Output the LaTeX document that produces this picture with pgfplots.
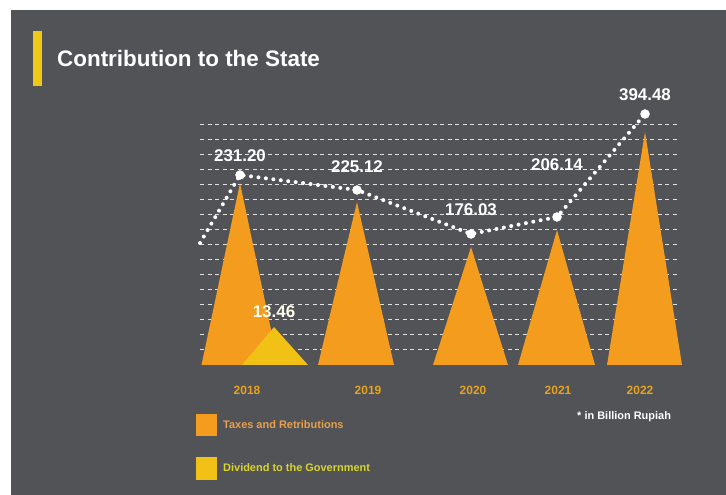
\documentclass[border=0pt]{standalone}
\usepackage{fontspec}
\setmainfont{Liberation Sans}
\usepackage{pgfplots}
\usepackage{pgfplotstable}
\pgfplotsset{compat=1.18}
\definecolor{bg}{HTML}{515357}
\definecolor{tax}{HTML}{F39C1E}
\definecolor{div}{HTML}{F1C116}
\definecolor{bar}{HTML}{F0C818}
\definecolor{yearcol}{HTML}{E8A21E}
\definecolor{divtxt}{HTML}{D9D42E}
\definecolor{taxtxt}{HTML}{E9A04A}

% line through the labelled values; y = drawn height above the baseline (px), val = printed value
\pgfplotstableread{
x   y    val     off
240 190  231.20  19
357 175  225.12  23
471 131  176.03  24
557 148  206.14  52
645 251  394.48  19
}\linedata

\begin{document}
\begin{tikzpicture}[x=1bp,y=1bp]
\path[use as bounding box] (0,0) rectangle (726,495);
\fill[white] (0,0) rectangle (726,495);
\fill[bg] (11,0) rectangle (726,485);
\fill[bar] (33,409) rectangle (42,464);
\node[anchor=west, text=white, font=\bfseries\fontsize{22.5}{24}\selectfont, inner sep=0pt] at (57,437) {Contribution to the State};

\begin{axis}[
  at={(200bp,130bp)}, anchor=south west,
  scale only axis, width=477bp, height=245bp,
  xmin=200, xmax=677, ymin=0, ymax=245,
  clip=false,
  axis line style={draw=none},
  major tick style={draw=none},
  ytick={15,30,...,240}, yticklabels={},
  ymajorgrids,
  grid style={white!82!bg, line width=1bp, dash pattern=on 4bp off 3.5bp},
  xtick={247,368,473,558,640},
  xticklabels={2018,2019,2020,2021,2022},
  xticklabel style={anchor=center, yshift=-25bp, text=yearcol, font=\bfseries\fontsize{12}{12}\selectfont},
]
% Taxes and Retributions (triangles)
\addplot[fill=tax, draw=none] coordinates {(201.5,0) (240,182) (278.5,0)} -- cycle;
\addplot[fill=tax, draw=none] coordinates {(318,0) (357,163) (394,0)} -- cycle;
\addplot[fill=tax, draw=none] coordinates {(433,0) (471,118) (508,0)} -- cycle;
\addplot[fill=tax, draw=none] coordinates {(518,0) (557,135) (595,0)} -- cycle;
\addplot[fill=tax, draw=none] coordinates {(607,0) (645,233) (682,0)} -- cycle;
% Dividend to the Government
\addplot[fill=div, draw=none] coordinates {(242,0) (274,38) (308,0)} -- cycle;
\addplot[draw=none, mark=none, nodes near coords, point meta=explicit symbolic,
  every node near coord/.append style={anchor=center, yshift=15bp, text=white!92!yellow, font=\bfseries\fontsize{17}{17}\selectfont}]
  coordinates {(274,38)[13.46]};
% dotted line
\addplot[white, line width=4bp, dash pattern=on 0bp off 7.5bp, line cap=round]
  coordinates {(200,122) (240,190) (357,175) (471,131) (557,148) (645,251)};
\addplot[only marks, mark=*, mark size=4.5bp, white,
  visualization depends on={\thisrow{off}\as\off},
  point meta=explicit symbolic, nodes near coords,
  every node near coord/.append style={anchor=center, yshift=\off bp, text=white, font=\bfseries\fontsize{17}{17}\selectfont}]
  table[x=x, y=y, meta=val] {\linedata};
\end{axis}

% legend
\fill[tax] (196,59) rectangle (217,81);
\node[anchor=west, inner sep=0pt, text=taxtxt, font=\bfseries\fontsize{11}{11}\selectfont] at (223,70) {Taxes and Retributions};
\fill[div] (196,15) rectangle (217,38);
\node[anchor=west, inner sep=0pt, text=divtxt, font=\bfseries\fontsize{11}{11}\selectfont] at (223,27) {Dividend to the Government};
\node[anchor=west, inner sep=0pt, text=white, font=\bfseries\fontsize{11}{11}\selectfont] at (577,78) {* in Billion Rupiah};
\end{tikzpicture}
\end{document}
